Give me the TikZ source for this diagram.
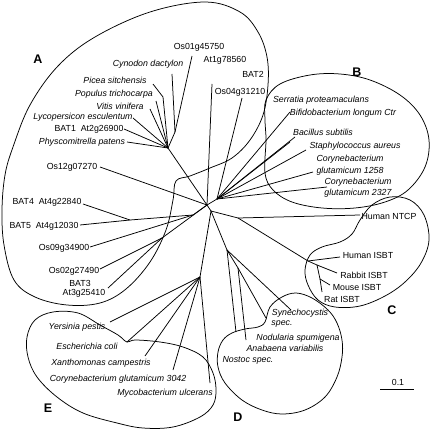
\documentclass[tikz,border=0pt]{standalone}
\usepackage{fontspec}
\setmainfont{Liberation Sans}
\begin{document}
\begin{tikzpicture}[x=1pt,y=-1pt,
  br/.style={line width=0.75pt},
  bd/.style={line width=0.75pt},
  lab/.style={font=\fontsize{8.8}{10}\selectfont, inner sep=0pt},
  itl/.style={font=\fontsize{8.8}{10}\selectfont\itshape, inner sep=0pt},
  big/.style={font=\fontsize{12.5}{14}\selectfont\bfseries, inner sep=0pt}]
\useasboundingbox[fill=white] (0,0) rectangle (430,430);

% ---------- clade boundaries ----------
\draw[bd] plot[smooth cycle, tension=0.6] coordinates {(13,147) (30,105) (58,66) (95,37) (150,12) (205,2) (240,12) (258,32) (267,57) (268,85) (263,115) (250,140) (232,158) (210,168) (190,176) (176,181) (173,200) (166,230) (150,262) (126,289) (100,303) (67,305) (35,297) (14,280) (4,245) (2,210) (5,175)};
\draw[bd] plot[smooth cycle, tension=0.6] coordinates {(266,100) (280,84) (310,75) (340,74) (370,80) (400,95) (420,115) (429,140) (425,167) (408,190) (385,202) (355,208) (322,208) (292,202) (273,190) (265,173) (266,140) (265,120)};
\draw[bd] plot[smooth cycle, tension=0.6] coordinates {(360,220) (372,205) (390,197) (410,200) (424,215) (429,240) (421,263) (405,282) (385,296) (360,306) (335,307) (318,300) (308,285) (305,270) (310,255) (322,247) (340,242) (352,234)};
\draw[bd] plot[smooth cycle, tension=0.6] coordinates {(265,322) (270,307) (282,297) (296,293) (312,298) (328,310) (337,323) (342,340) (342,357) (337,377) (325,397) (305,410) (282,414) (262,410) (242,400) (225,383) (218,367) (218,352) (223,340) (232,333) (245,329) (258,327)};
\draw[bd] plot[smooth cycle, tension=0.6] coordinates {(53,312) (35,320) (27,337) (28,357) (37,377) (57,397) (83,413) (117,423) (143,428) (173,427) (200,417) (213,405) (216,390) (213,373) (203,357) (183,347) (160,342) (135,340) (127,342) (118,335) (100,325) (78,313)};

% ---------- internal nodes ----------
\coordinate (R0) at (207,205);
\coordinate (R1) at (211,211);
\coordinate (P) at (168,148);
\coordinate (Q) at (175,132);
\coordinate (NB) at (217,199);
\coordinate (N1) at (193,215);
\coordinate (BN) at (130,220);
\coordinate (N2) at (162,238);
\coordinate (NC) at (238,218);
\coordinate (NI) at (308,261);
\coordinate (NI2) at (317,265);
\coordinate (NI3) at (320,279);
\coordinate (NE) at (200,277);
\coordinate (N4) at (227,250);
\coordinate (N5) at (238,268);

% ---------- leaf ends ----------
\coordinate (lOs01) at (192,56);
\coordinate (lCyn) at (172,74);
\coordinate (lPic) at (163,97);
\coordinate (lPicT) at (153,84);
\coordinate (lPop) at (156,101);
\coordinate (lVit) at (150,109);
\coordinate (lLyc) at (133,118);
\coordinate (lBAT1) at (124,129);
\coordinate (lPhy) at (127,142);
\coordinate (lAt1) at (212,84);
\coordinate (lOs04) at (242,98);
\coordinate (lOs12) at (100,167);
\coordinate (lBAT4) at (83,204);
\coordinate (lBAT5) at (80,225);
\coordinate (lOs09) at (90,247);
\coordinate (lOs02) at (100,269);
\coordinate (lBAT3) at (108,288);
\coordinate (lSer) at (290,142);
\coordinate (lBif) at (290,112);
\coordinate (lBac) at (295,137);
\coordinate (lSta) at (306,150);
\coordinate (lC1258) at (313,172);
\coordinate (lC2327) at (327,187);
\coordinate (lNTCP) at (360,215);
\coordinate (lHI) at (340,257);
\coordinate (lRab) at (337,273);
\coordinate (lMou) at (330,285);
\coordinate (lRat) at (322,292);
\coordinate (lYer) at (110,322);
\coordinate (lEco) at (127,342);
\coordinate (lXan) at (145,356);
\coordinate (lC3042) at (173,370);
\coordinate (lMyc) at (210,383);
\coordinate (lSyn) at (291,310);
\coordinate (lNod) at (266,318);
\coordinate (lAna) at (246,340);
\coordinate (lNos) at (236,332);

% ---------- branches ----------
\draw[br] (lOs01) -- (Q);
\draw[br] (lCyn) -- (Q);
\draw[br] (Q) -- (P);
\draw[br] (lPicT) -- (lPic) -- (P);
\draw[br] (lPop) -- (P);
\draw[br] (lVit) -- (P);
\draw[br] (lLyc) -- (P);
\draw[br] (lBAT1) -- (P);
\draw[br] (lPhy) -- (P);
\draw[br] (P) -- (R0);
\draw[br] (lAt1) -- (R0);
\draw[br] (lOs04) -- (NB);
\draw[br] (NB) -- (R0);
\draw[br] (lOs12) -- (R0);
\draw[br] (lBAT4) -- (BN);
\draw[br] (lBAT5) -- (BN);
\draw[br] (BN) -- (N1);
\draw[br] (lOs09) -- (N1);
\draw[br] (N1) -- (R0);
\draw[br] (lOs02) -- (N2);
\draw[br] (lBAT3) -- (N2);
\draw[br] (N2) -- (R0);
\draw[br] (lSer) -- (NB);
\draw[br] (lBif) -- (NB);
\draw[br] (lBac) -- (NB);
\draw[br] (lSta) -- (NB);
\draw[br] (lC1258) -- (NB);
\draw[br] (lC2327) -- (NB);
\draw[br] (R0) -- (R1);
\draw[br] (R1) -- (NC);
\draw[br] (lNTCP) -- (NC);
\draw[br] (NC) -- (NI);
\draw[br] (lHI) -- (NI);
\draw[br] (NI) -- (NI2);
\draw[br] (lRab) -- (NI2);
\draw[br] (NI2) -- (NI3);
\draw[br] (lMou) -- (NI3);
\draw[br] (lRat) -- (NI3);
\draw[br] (R1) -- (NE);
\draw[br] (lYer) -- (NE);
\draw[br] (lEco) -- (NE);
\draw[br] (lXan) -- (NE);
\draw[br] (lC3042) -- (NE);
\draw[br] (lMyc) -- (NE);
\draw[br] (R1) -- (N4);
\draw[br] (lSyn) -- (N4);
\draw[br] (N4) -- (N5);
\draw[br] (lNod) -- (N5);
\draw[br] (lAna) -- (N5);
\draw[br] (lNos) -- (N4);

% ---------- labels ----------
\node[big] (cA) at (38,59) {A};
\node[big] (cB) at (357,72) {B};
\node[big] (cC) at (392,310) {C};
\node[big] (cD) at (238,417) {D};
\node[big] (cE) at (48,408) {E};

\node[lab] (tOs01) at (199,47) {Os01g45750};
\node[itl] (tCyn) at (148,64) {Cynodon dactylon};
\node[lab] (tAt1) at (225,60) {At1g78560};
\node[lab] (tBAT2) at (253,74) {BAT2};
\node[lab] (tOs04) at (240,92) {Os04g31210};
\node[itl] (tPic) at (115,80) {Picea sitchensis};
\node[itl] (tPop) at (114,94) {Populus trichocarpa};
\node[itl] (tVit) at (120,106) {Vitis vinifera};
\node[itl] (tLyc) at (83,117) {Lycopersicon esculentum};
\node[lab] (tBAT1) at (89,129) {BAT1\ \ At2g26900};
\node[itl] (tPhy) at (82,142) {Physcomitrella patens};
\node[lab] (tOs12) at (72,167) {Os12g07270};
\node[lab] (tBAT4) at (47,202) {BAT4\ \ At4g22840};
\node[lab] (tBAT5) at (44,226) {BAT5\ \ At4g12030};
\node[lab] (tOs09) at (64,248) {Os09g34900};
\node[lab] (tOs02) at (74,271) {Os02g27490};
\node[lab] (tBAT3) at (80,283) {BAT3};
\node[lab] (tAt3) at (84,293) {At3g25410};

\node[itl] (tSer) at (321,100) {Serratia proteamaculans};
\node[itl] (tBif) at (343,113) {Bifidobacterium longum Ctr};
\node[itl] (tBac) at (323,132) {Bacillus subtilis};
\node[itl] (tSta) at (355,146) {Staphylococcus aureus};
\node[itl] (tC1a) at (350,159) {Corynebacterium};
\node[itl] (tC1b) at (350,171) {glutamicum 1258};
\node[itl] (tC2a) at (358,182) {Corynebacterium};
\node[itl] (tC2b) at (358,193) {glutamicum 2327};

\node[lab] (tNTCP) at (389,216) {Human NTCP};
\node[lab] (tHI) at (368,255) {Human ISBT};
\node[lab] (tRab) at (364,275) {Rabbit ISBT};
\node[lab] (tMou) at (357,287) {Mouse ISBT};
\node[lab] (tRat) at (342,299) {Rat ISBT};

\node[itl] (tSyn) at (300,313) {Synechocystis};
\node[itl] (tSynb) at (282,324) {spec.};
\node[itl] (tNod) at (298,338) {Nodularia spumigena};
\node[itl] (tAna) at (285,348) {Anabaena variabilis};
\node[itl] (tNos) at (248,360) {Nostoc spec.};

\node[itl] (tYer) at (77,327) {Yersinia pestis};
\node[itl] (tEco) at (87,346) {Escherichia coli};
\node[itl] (tXan) at (101,363) {Xanthomonas campestris};
\node[itl] (tC3042) at (118,379) {Corynebacterium glutamicum 3042};
\node[itl] (tMyc) at (165,393) {Mycobacterium ulcerans};

% ---------- scale bar ----------
\coordinate (sb1) at (380,389);
\coordinate (sb2) at (414,389);
\draw[line width=0.5pt] (sb1) -- (sb2);
\node[lab] (tsb) at (398,382) {0.1};
\end{tikzpicture}
\end{document}
